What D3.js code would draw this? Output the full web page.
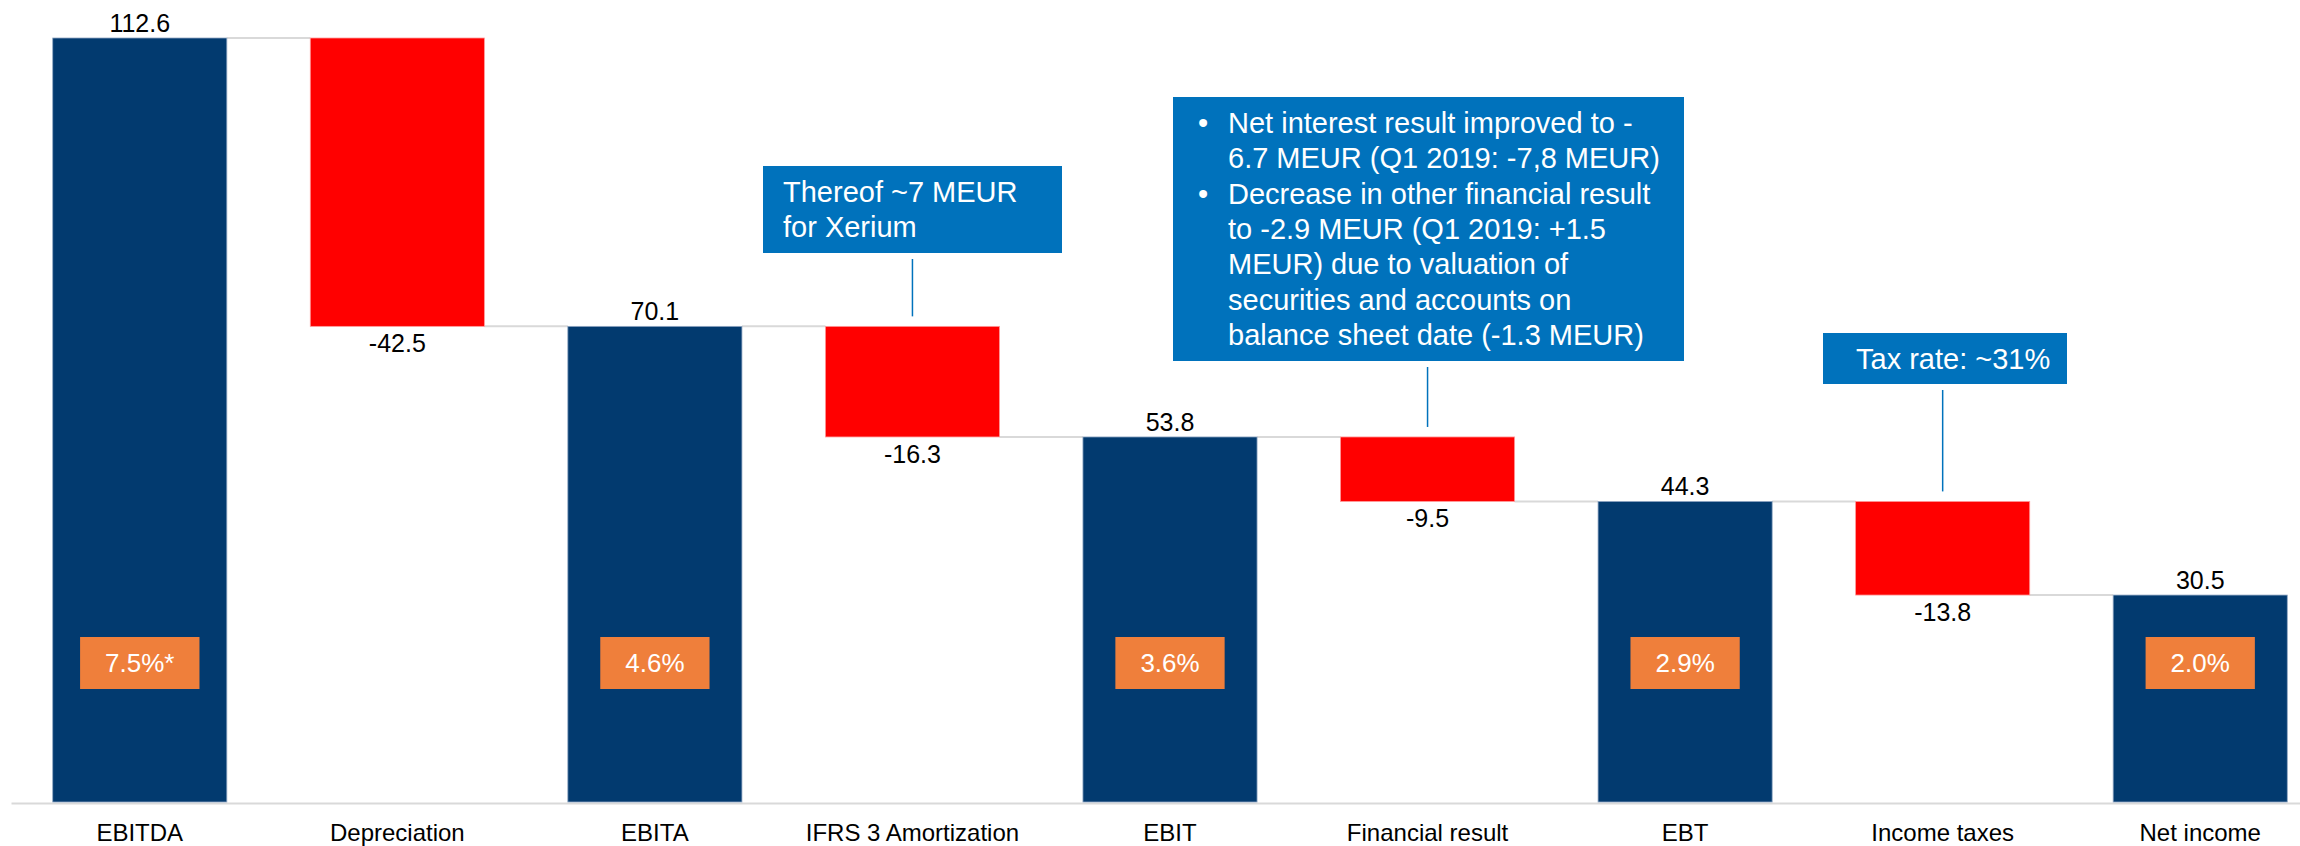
<!DOCTYPE html>
<html>
<head>
<meta charset="utf-8">
<script src="https://cdn.jsdelivr.net/npm/d3@7"></script>
<style>
  html, body { margin: 0; padding: 0; background: #fff; }
  svg { display: block; }
  text { font-family: "Liberation Sans", Arial, sans-serif; }
</style>
</head>
<body>
<div id="chart"></div>
<script>
// --- data ---
const categories = ['EBITDA', 'Depreciation', 'EBITA', 'IFRS 3 Amortization', 'EBIT',
  'Financial result', 'EBT', 'Income taxes', 'Net income'];
const values = [112.6, -42.5, 70.1, -16.3, 53.8, -9.5, 44.3, -13.8, 30.5];
const isTotal = [true, false, true, false, true, false, true, false, true];
const marginLabels = ['7.5%*', null, '4.6%', null, '3.6%', null, '2.9%', null, '2.0%'];

const noteXerium = ['Thereof ~7 MEUR', 'for Xerium'];
const noteFinancial = [
  { bullet: true, text: 'Net interest result improved to -' },
  { bullet: false, text: '6.7 MEUR (Q1 2019: -7,8 MEUR)' },
  { bullet: true, text: 'Decrease in other financial result' },
  { bullet: false, text: 'to -2.9 MEUR (Q1 2019: +1.5' },
  { bullet: false, text: 'MEUR) due to valuation of' },
  { bullet: false, text: 'securities and accounts on' },
  { bullet: false, text: 'balance sheet date (-1.3 MEUR)' }
];
const noteTax = ['Tax rate: ~31%'];

// --- layout ---
const width = 2300, height = 846;
const NAVY = '#023a6f', RED = '#ff0000', ORANGE = '#ef7f3b', BLUE = '#0072bc';

const svg = d3.select('#chart').append('svg')
  .attr('width', width)
  .attr('height', height);

const x = d3.scaleBand()
  .domain(categories)
  .range([11, 2329])
  .paddingInner(0.324)
  .paddingOuter(0.162);

const y = d3.scaleLinear()
  .domain([0, 112.6])
  .range([802, 38]);

// running totals -> start / end for each step
let running = 0;
const steps = categories.map((c, i) => {
  let start, end;
  if (isTotal[i]) { start = 0; end = values[i]; running = values[i]; }
  else { start = running; end = running + values[i]; running = end; }
  return { c, i, v: values[i], start, end, total: isTotal[i], margin: marginLabels[i] };
});

// connector lines between bars
const links = steps.slice(0, -1).map((d, i) => ({ from: d, to: steps[i + 1] }));
svg.append('g').attr('class', 'links')
  .selectAll('line')
  .data(links)
  .join('line')
  .attr('x1', d => x(d.from.c) + x.bandwidth())
  .attr('x2', d => x(d.to.c))
  .attr('y1', d => y(d.from.end))
  .attr('y2', d => y(d.from.end))
  .attr('stroke', '#d9d9d9')
  .attr('stroke-width', 2);

// axis (baseline + category labels)
const axis = svg.append('g')
  .attr('transform', `translate(0, 803)`)
  .call(d3.axisBottom(x).tickSize(0).tickSizeOuter(0).tickPadding(21));
axis.select('.domain').attr('stroke', '#d9d9d9').attr('stroke-width', 2);
axis.selectAll('.tick text')
  .attr('font-family', '"Liberation Sans", Arial, sans-serif')
  .attr('font-size', 24)
  .attr('fill', '#000');

// bars
svg.append('g').attr('class', 'bars')
  .selectAll('rect')
  .data(steps)
  .join('rect')
  .attr('x', d => x(d.c))
  .attr('width', x.bandwidth())
  .attr('y', d => y(Math.max(d.start, d.end)))
  .attr('height', d => Math.abs(y(d.start) - y(d.end)))
  .attr('fill', d => d.total ? NAVY : RED)
  .attr('stroke', d => d.total ? '#8fa6c2' : '#ff9a9a')
  .attr('stroke-width', 0.8);

// value labels
svg.append('g').attr('class', 'values')
  .selectAll('text')
  .data(steps)
  .join('text')
  .attr('x', d => x(d.c) + x.bandwidth() / 2)
  .attr('y', d => d.total ? y(d.end) - 6 : y(d.end) + 26)
  .attr('text-anchor', 'middle')
  .attr('font-size', 25)
  .attr('fill', '#000')
  .text(d => d.v.toFixed(1));

// margin badges
const badges = svg.append('g').attr('class', 'badges')
  .selectAll('g')
  .data(steps.filter(d => d.margin))
  .join('g')
  .attr('transform', d => `translate(${x(d.c) + x.bandwidth() / 2}, 663)`);

badges.append('rect').attr('fill', ORANGE);
badges.append('text')
  .attr('text-anchor', 'middle')
  .attr('y', 9)
  .attr('font-size', 26)
  .attr('fill', '#fff')
  .text(d => d.margin);
badges.each(function () {
  const g = d3.select(this);
  const w = g.select('text').node().getComputedTextLength() + 50;
  g.select('rect').attr('x', -w / 2).attr('y', -26).attr('width', w).attr('height', 52);
});

// annotation callouts
const notes = [
  { cat: 'IFRS 3 Amortization', box: { x: 763, y: 166, w: 299, h: 87 }, padX: 20,
    lines: noteXerium.map(t => ({ bullet: false, text: t })) },
  { cat: 'Financial result', box: { x: 1173, y: 97, w: 511, h: 264 }, padX: 55,
    lines: noteFinancial },
  { cat: 'Income taxes', box: { x: 1823, y: 333, w: 244, h: 51 }, padX: 33,
    lines: noteTax.map(t => ({ bullet: false, text: t })) }
];

const noteG = svg.append('g').attr('class', 'notes')
  .selectAll('g')
  .data(notes)
  .join('g');

noteG.append('line')
  .attr('x1', d => x(d.cat) + x.bandwidth() / 2)
  .attr('x2', d => x(d.cat) + x.bandwidth() / 2)
  .attr('y1', d => d.box.y + d.box.h + 6)
  .attr('y2', d => y(steps[categories.indexOf(d.cat)].start) - 10)
  .attr('stroke', BLUE)
  .attr('stroke-width', 1.5);

noteG.append('rect')
  .attr('x', d => d.box.x)
  .attr('y', d => d.box.y)
  .attr('width', d => d.box.w)
  .attr('height', d => d.box.h)
  .attr('fill', BLUE);

noteG.each(function (d) {
  const g = d3.select(this);
  d.lines.forEach((ln, k) => {
    const by = d.box.y + 36 + k * 35.3;
    if (ln.bullet) {
      g.append('text')
        .attr('x', d.box.x + 25)
        .attr('y', by)
        .attr('font-size', 29)
        .attr('fill', '#fff')
        .text('•');
    }
    g.append('text')
      .attr('x', d.box.x + d.padX)
      .attr('y', by)
      .attr('font-size', 29)
      .attr('fill', '#fff')
      .text(ln.text);
  });
});
</script>
</body>
</html>
